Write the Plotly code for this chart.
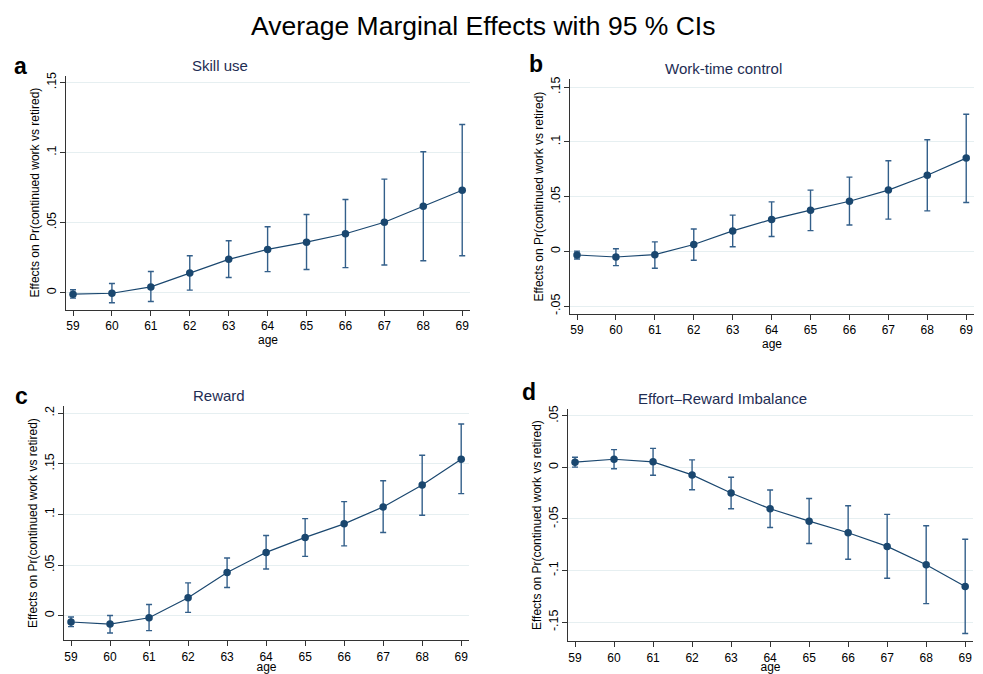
import plotly.graph_objects as go

ages = [59, 60, 61, 62, 63, 64, 65, 66, 67, 68, 69]

skill_est = [-0.0012, -0.0005, 0.0040, 0.0140, 0.0237, 0.0308, 0.0360, 0.0420, 0.0502, 0.0616, 0.0730]
skill_hi = [0.0020, 0.0064, 0.0150, 0.0263, 0.0370, 0.0470, 0.0557, 0.0664, 0.0810, 0.1005, 0.1200]
skill_lo = [-0.0040, -0.0073, -0.0064, 0.0017, 0.0107, 0.0149, 0.0164, 0.0178, 0.0197, 0.0227, 0.0263]

wtc_est = [-0.0033, -0.0051, -0.0030, 0.0063, 0.0187, 0.0292, 0.0377, 0.0458, 0.0560, 0.0696, 0.0852]
wtc_hi = [0.0003, 0.0024, 0.0087, 0.0205, 0.0331, 0.0452, 0.0560, 0.0678, 0.0828, 0.1020, 0.1253]
wtc_lo = [-0.0069, -0.0130, -0.0154, -0.0081, 0.0042, 0.0136, 0.0190, 0.0241, 0.0295, 0.0370, 0.0446]

rew_est = [-0.0062, -0.0082, -0.0020, 0.0177, 0.0426, 0.0625, 0.0773, 0.0907, 0.1074, 0.1290, 0.1545]
rew_hi = [-0.0013, 0.0003, 0.0111, 0.0324, 0.0570, 0.0792, 0.0959, 0.1126, 0.1332, 0.1584, 0.1892]
rew_lo = [-0.0108, -0.0170, -0.0147, 0.0033, 0.0278, 0.0462, 0.0586, 0.0690, 0.0822, 0.0992, 0.1205]

eri_est = [0.0051, 0.0079, 0.0054, -0.0073, -0.0248, -0.0401, -0.0521, -0.0633, -0.0766, -0.0944, -0.1154]
eri_hi = [0.0099, 0.0172, 0.0184, 0.0073, -0.0095, -0.0219, -0.0302, -0.0372, -0.0455, -0.0566, -0.0696]
eri_lo = [0.0003, -0.0013, -0.0076, -0.0216, -0.0401, -0.0582, -0.0738, -0.0890, -0.1075, -0.1320, -0.1610]

panel_titles = ["Skill use", "Work-time control", "Reward", "Effort\u2013Reward Imbalance"]
panel_letters = ["a", "b", "c", "d"]

yticks_a = [0, 0.05, 0.1, 0.15]
ylabels_a = ["0", ".05", ".1", ".15"]
yticks_b = [-0.05, 0, 0.05, 0.1, 0.15]
ylabels_b = ["-.05", "0", ".05", ".1", ".15"]
yticks_c = [0, 0.05, 0.1, 0.15, 0.2]
ylabels_c = ["0", ".05", ".1", ".15", ".2"]
yticks_d = [-0.15, -0.1, -0.05, 0, 0.05]
ylabels_d = ["-.15", "-.1", "-.05", "0", ".05"]

# page body has an 8px margin; compensate so the figure lines up with the window
OFF = 8
W, H = 983 - OFF, 674 - OFF
NAVY = "#1a476f"
ERR = "#335f8a"
FONT = "Liberation Sans, Arial, Helvetica, sans-serif"

# panel boxes in window pixels: left, right, top, bottom
boxes = [(66, 470, 72, 308), (570, 974, 76, 312), (64, 469, 405, 641), (568, 973, 408, 642)]
title_pos = [(220, 62), (723, 65), (219, 394), (722, 397)]
letter_pos = [(20, 62), (536, 60), (21, 395), (529, 391)]
yranges = [(-0.0123, 0.155), (-0.0569, 0.157), (-0.0242, 0.207), (-0.1685, 0.0566)]
series = [(skill_est, skill_hi, skill_lo), (wtc_est, wtc_hi, wtc_lo),
          (rew_est, rew_hi, rew_lo), (eri_est, eri_hi, eri_lo)]
yticksets = [(yticks_a, ylabels_a), (yticks_b, ylabels_b), (yticks_c, ylabels_c), (yticks_d, ylabels_d)]


def px(x):
    return (x - OFF) / W


def py(y):
    return 1 - (y - OFF) / H


fig = go.Figure()
layout = dict(width=W, height=H, margin=dict(l=0, r=0, t=0, b=0),
              paper_bgcolor="white", plot_bgcolor="white", showlegend=False,
              font=dict(family=FONT, color="black", size=12))
annotations = []

for i in range(4):
    est, hi, lo = series[i]
    xa = "x" if i == 0 else f"x{i+1}"
    ya = "y" if i == 0 else f"y{i+1}"
    fig.add_trace(go.Scatter(
        x=ages, y=est, mode="lines+markers", xaxis=xa, yaxis=ya,
        line=dict(color=NAVY, width=1.2),
        marker=dict(color=NAVY, size=7.5),
        error_y=dict(type="data", symmetric=False,
                     array=[h - e for h, e in zip(hi, est)],
                     arrayminus=[e - l for e, l in zip(est, lo)],
                     color=ERR, thickness=1.4, width=3),
    ))
    l, r, t, b = boxes[i]
    xkey = "xaxis" if i == 0 else f"xaxis{i+1}"
    ykey = "yaxis" if i == 0 else f"yaxis{i+1}"
    layout[xkey] = dict(domain=[px(l), px(r)], anchor=ya, range=[58.82, 69.2],
                        tickvals=ages, ticktext=[str(a) for a in ages],
                        showline=True, linecolor="#333333", linewidth=1.2,
                        ticks="outside", ticklen=5, tickcolor="#333333",
                        showgrid=False, zeroline=False,
                        tickfont=dict(size=12, family=FONT),
                        title=dict(text="age", font=dict(size=12, family=FONT), standoff=1))
    tv, tt = yticksets[i]
    layout[ykey] = dict(domain=[py(b), py(t)], anchor=xa, range=list(yranges[i]),
                        tickvals=tv, ticktext=tt, tickangle=-90,
                        ticklabelstandoff=-1,
                        showline=True, linecolor="#333333", linewidth=1.2,
                        ticks="outside", ticklen=5, tickcolor="#333333",
                        showgrid=True, gridcolor="#e6eff1", gridwidth=1,
                        zeroline=False,
                        tickfont=dict(size=12.5, family=FONT),
                        title=dict(text="Effects on Pr(continued work vs retired)",
                                   font=dict(size=12, family=FONT), standoff=2))
    tx, ty = title_pos[i]
    annotations.append(dict(text=panel_titles[i], x=px(tx), y=py(ty),
                            xref="paper", yref="paper", showarrow=False,
                            xanchor="center", yanchor="middle",
                            font=dict(size=15, family=FONT, color="#1e2d53")))
    lx, ly = letter_pos[i]
    annotations.append(dict(text=f"<b>{panel_letters[i]}</b>", x=px(lx), y=py(ly),
                            xref="paper", yref="paper", showarrow=False,
                            xanchor="center", yanchor="middle",
                            font=dict(size=23, family=FONT, color="black")))

annotations.append(dict(text="Average Marginal Effects with 95 % CIs", x=px(483), y=py(22),
                        xref="paper", yref="paper", showarrow=False,
                        xanchor="center", yanchor="middle",
                        font=dict(size=26.5, family=FONT, color="black")))
layout["annotations"] = annotations
fig.update_layout(**layout)
fig.write_html("out.html")
